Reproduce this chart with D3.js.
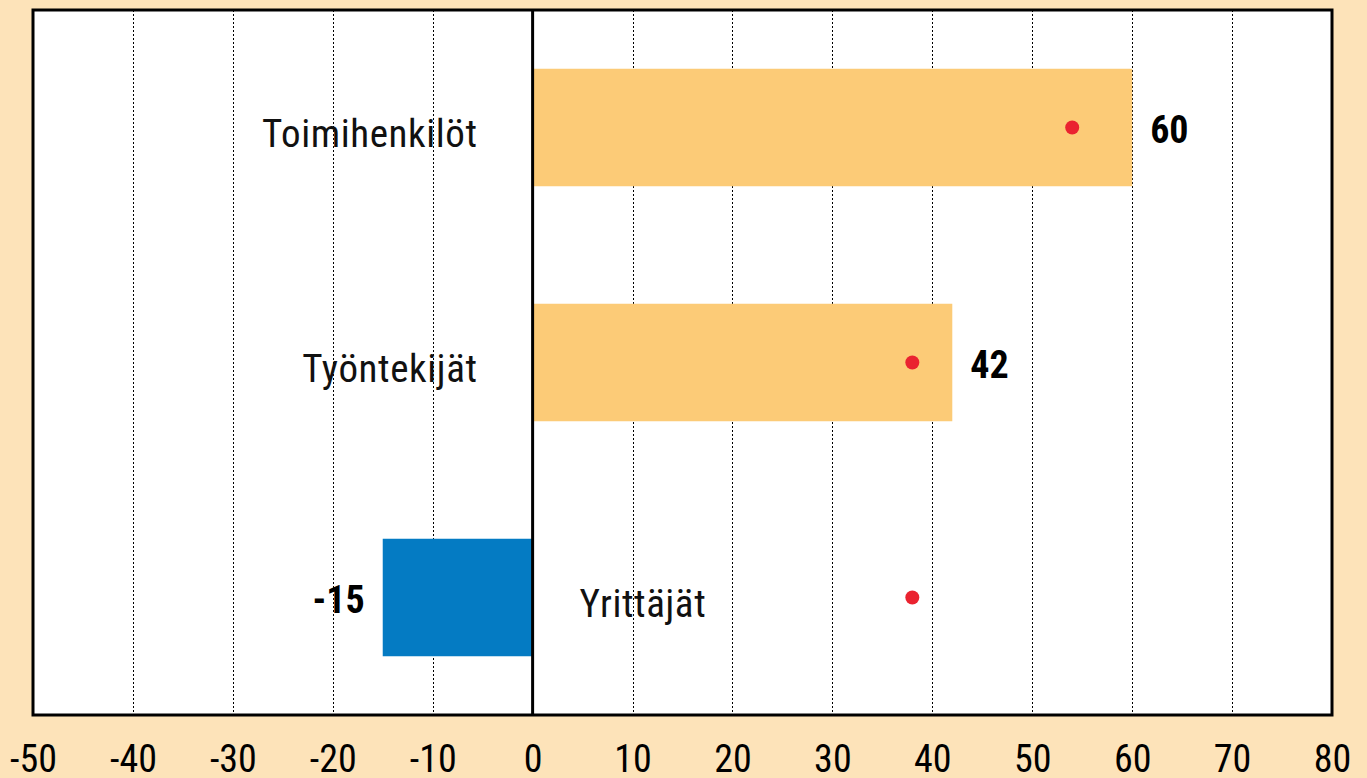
<!DOCTYPE html>
<html>
<head>
<meta charset="utf-8">
<script src="https://cdn.jsdelivr.net/npm/d3@7"></script>
<style>
  html, body { margin: 0; padding: 0; background: #fde3b9; }
  svg { display: block; }
  text { font-family: "Liberation Sans Narrow", "Arial Narrow", "Roboto Condensed", sans-serif; }
</style>
</head>
<body>
<svg id="chart"></svg>
<script>
// data
var categories = ["Toimihenkilöt", "Työntekijät", "Yrittäjät"];
var values = [60, 42, -15];
var dots = [54, 38, 38];
var tickValues = [-50, -40, -30, -20, -10, 0, 10, 20, 30, 40, 50, 60, 70, 80];

var width = 1367, height = 778;
var plotLeft = 33, plotRight = 1332, plotTop = 10, plotBottom = 715;

var svg = d3.select("#chart")
    .attr("width", width)
    .attr("height", height);

var x = d3.scaleLinear()
    .domain([-50, 80])
    .range([plotLeft, plotRight]);

var y = d3.scaleBand()
    .domain(categories)
    .range([plotTop, plotBottom])
    .paddingInner(0.5)
    .paddingOuter(0.25);

// white plot area
svg.append("rect")
    .attr("x", plotLeft).attr("y", plotTop)
    .attr("width", plotRight - plotLeft).attr("height", plotBottom - plotTop)
    .attr("fill", "#fff");

// dotted grid
svg.selectAll("line.grid")
    .data(tickValues.filter(function(d){ return d != -50 && d != 0 && d != 80; }))
    .enter()
    .append("line")
      .attr("class", "grid")
      .attr("x1", function(d){ return Math.round(x(d)) + 0.5; })
      .attr("x2", function(d){ return Math.round(x(d)) + 0.5; })
      .attr("y1", plotTop).attr("y2", plotBottom)
      .attr("stroke", "#000")
      .attr("stroke-width", 1)
      .attr("stroke-dasharray", "2,2");

// bars
svg.selectAll("rect.bar")
    .data(values)
    .enter()
    .append("rect")
      .attr("class", "bar")
      .attr("x", function(d){ return x(Math.min(0, d)); })
      .attr("width", function(d){ return Math.abs(x(d) - x(0)); })
      .attr("y", function(d, i){ return y(categories[i]); })
      .attr("height", y.bandwidth())
      .attr("fill", function(d){ return d < 0 ? "#047bc3" : "#fccb77"; });

// zero line
svg.append("line")
    .attr("x1", x(0)).attr("x2", x(0))
    .attr("y1", plotTop).attr("y2", plotBottom)
    .attr("stroke", "#000")
    .attr("stroke-width", 3);

// frame
svg.append("rect")
    .attr("x", plotLeft).attr("y", plotTop)
    .attr("width", plotRight - plotLeft).attr("height", plotBottom - plotTop)
    .attr("fill", "none")
    .attr("stroke", "#000")
    .attr("stroke-width", 3);

// red dots
svg.selectAll("circle")
    .data(dots)
    .enter()
    .append("circle")
      .attr("cx", function(d){ return x(d); })
      .attr("cy", function(d, i){ return y(categories[i]) + y.bandwidth() / 2; })
      .attr("r", 7)
      .attr("fill", "#ea2330");

// category labels
svg.selectAll("text.cat")
    .data(categories)
    .enter()
    .append("text")
      .attr("class", "cat")
      .text(function(d){ return d; })
      .attr("x", function(d, i){ return values[i] < 0 ? x(0) + 47 : x(0) - 55; })
      .attr("y", function(d){ return y(d) + y.bandwidth() / 2 + 6; })
      .attr("dy", "0.35em")
      .attr("text-anchor", function(d, i){ return values[i] < 0 ? "start" : "end"; })
      .attr("font-size", 39)
      .attr("letter-spacing", 0.6)
      .attr("fill", "#111");

// value labels
svg.selectAll("text.val")
    .data(values)
    .enter()
    .append("text")
      .attr("class", "val")
      .text(function(d){ return d; })
      .attr("x", function(d){ return d < 0 ? x(d) - 18 : x(d) + 18; })
      .attr("y", function(d, i){ return y(categories[i]) + y.bandwidth() / 2 + 2; })
      .attr("dy", "0.35em")
      .attr("text-anchor", function(d){ return d < 0 ? "end" : "start"; })
      .attr("font-size", 38)
      .attr("font-weight", "bold")
      .attr("fill", "#000");

// x axis labels
var axis = d3.axisBottom(x)
    .tickValues(tickValues)
    .tickSize(0)
    .tickPadding(0)
    .tickFormat(function(d){ return d; });

var ax = svg.append("g")
    .attr("transform", "translate(0," + 745 + ")")
    .call(axis);
ax.select(".domain").remove();
ax.selectAll("text")
    .attr("font-family", "\"Liberation Sans Narrow\", \"Arial Narrow\", sans-serif")
    .attr("font-size", 38)
    .attr("fill", "#000")
    .attr("dy", "0.71em");
</script>
</body>
</html>
